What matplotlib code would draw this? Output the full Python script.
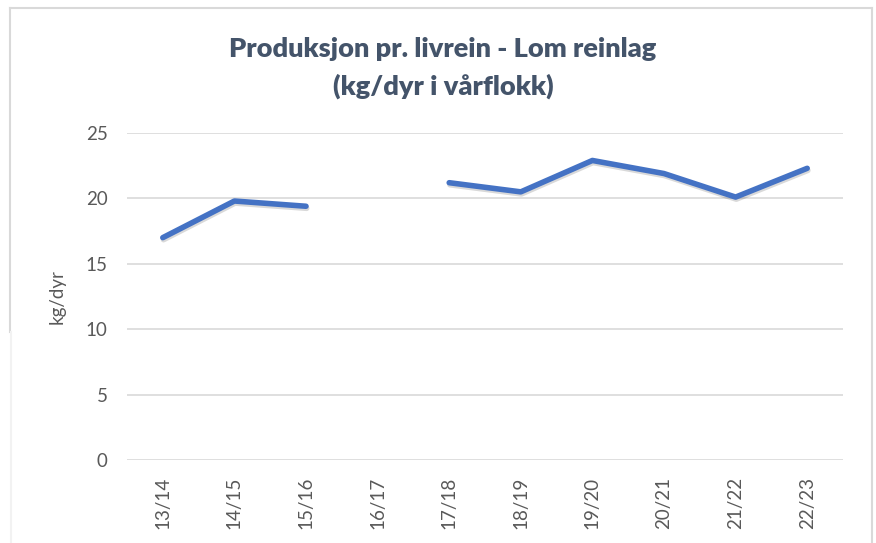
import matplotlib.pyplot as plt
import matplotlib.patheffects as pe
from matplotlib.lines import Line2D
import numpy as np

seasons = ['13/14', '14/15', '15/16', '16/17', '17/18', '18/19', '19/20', '20/21', '21/22', '22/23']
kg_per_animal = [17.0, 19.8, 19.4, np.nan, 21.2, 20.5, 22.9, 21.9, 20.1, 22.3]

plt.rcParams['font.family'] = ['Lato', 'DejaVu Sans']

W, H = 876, 543
fig = plt.figure(figsize=(W / 100, H / 100), dpi=100)
ax = fig.add_axes([127 / W, 1 - 460 / H, (843 - 127) / W, (460 - 133) / H])

x = np.arange(len(seasons))
ax.plot(x, kg_per_animal, color='#4472C4', lw=4.0, solid_capstyle='round',
        solid_joinstyle='round',
        path_effects=[pe.SimpleLineShadow(offset=(0.5, -1.5), shadow_color='black', alpha=0.15),
                      pe.Normal()])

ax.set_xlim(-0.5, len(seasons) - 0.5)
ax.set_ylim(0, 25)
ax.set_yticks([0, 5, 10, 15, 20, 25])
ax.set_xticks(x)
ax.set_xticklabels(seasons, rotation=90)
ax.grid(axis='y', color='#D9D9D9', lw=1.2)
ax.set_axisbelow(True)
for s in ax.spines.values():
    s.set_visible(False)
ax.tick_params(length=0, labelsize=13.5, labelcolor='#595959')
ax.tick_params(axis='y', pad=14)
ax.tick_params(axis='x', pad=12)
ax.set_ylabel('kg/dyr', fontsize=13.5, color='#595959', labelpad=14)

fig.text(443 / W, 1 - 49 / H, 'Produksjon pr. livrein - Lom reinlag', ha='center', va='center',
         fontsize=19.5, fontweight='heavy', color='#44546A')
fig.text(443 / W, 1 - 86 / H, '(kg/dyr i vårflokk)', ha='center', va='center',
         fontsize=19.5, fontweight='heavy', color='#44546A')

# chart frame
def px(xs, ys):
    return [v / W for v in xs], [1 - v / H for v in ys]

for xs, ys, c in [((10, 872), (8, 8), '#D9D9D9'),
                  ((10, 10), (8, 332), '#D9D9D9'),
                  ((872, 872), (8, 543), '#D9D9D9'),
                  ((11, 11), (332, 543), '#F2F2F2')]:
    fx, fy = px(xs, ys)
    fig.add_artist(Line2D(fx, fy, color=c, lw=1.5))

fig.savefig('out.png', dpi=100)
